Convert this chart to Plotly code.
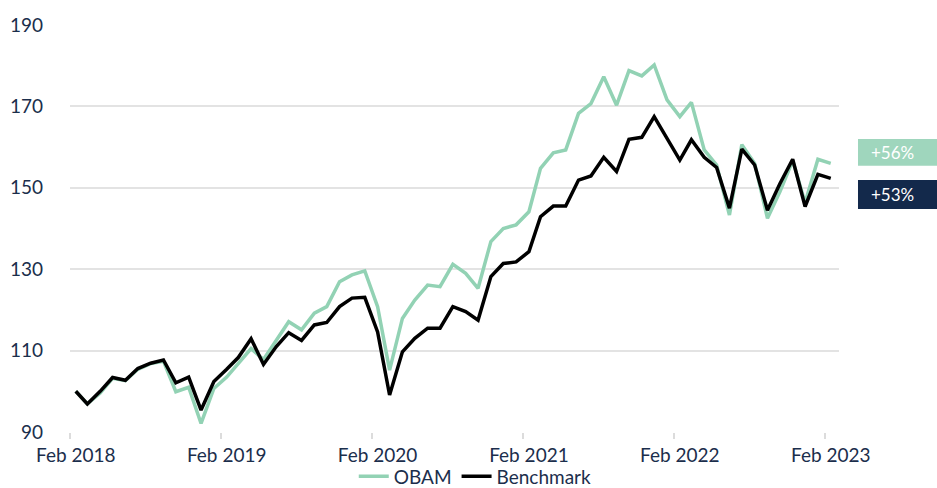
import pandas as pd
import plotly.graph_objects as go

start_month = "2018-02-01"
n_months = 61
dates = pd.date_range(start_month, periods=n_months, freq="MS") + pd.Timedelta(days=14)

obam = [100.0, 96.9, 99.6, 103.2, 102.6, 105.4, 106.8, 107.4, 99.9, 101.0,
        92.1, 100.7, 103.5, 106.8, 110.5, 107.8, 112.6, 117.1, 115.1, 119.2,
        120.8, 126.9, 128.6, 129.6, 120.8, 105.2, 117.9, 122.4, 126.1, 125.7,
        131.2, 129.0, 125.3, 136.8, 140.0, 140.9, 144.1, 154.8, 158.6, 159.3,
        168.3, 170.7, 177.3, 170.3, 178.8, 177.5, 180.2, 171.6, 167.5, 171.0,
        159.3, 155.6, 143.3, 160.6, 156.0, 142.5, 149.0, 156.7, 146.3, 157.0,
        156.0]
benchmark = [100.0, 96.9, 100.0, 103.4, 102.7, 105.6, 106.9, 107.7, 102.1, 103.5,
             95.4, 102.4, 105.4, 108.3, 112.9, 106.6, 111.0, 114.4, 112.5, 116.3,
             116.9, 120.8, 122.9, 123.1, 114.6, 99.1, 109.7, 113.0, 115.5, 115.5,
             120.8, 119.6, 117.5, 128.2, 131.4, 131.8, 134.3, 142.9, 145.5, 145.5,
             151.9, 152.9, 157.5, 154.0, 161.9, 162.4, 167.5, 162.1, 156.8, 161.8,
             157.5, 155.0, 145.0, 159.5, 155.6, 144.5, 151.0, 157.0, 145.4, 153.3,
             152.3]

tick_labels = ["Feb 2018", "Feb 2019", "Feb 2020", "Feb 2021", "Feb 2022", "Feb 2023"]
tick_dates = [dates[12 * k] for k in range(len(tick_labels))]
y_ticks = [90, 110, 130, 150, 170, 190]
end_labels = ["+56%", "+53%"]

GREEN = "#92d2b4"
BLACK = "#000000"
NAVY = "#13294b"
TEXT = "#1b2e4c"
FONT = "Lato"

fig = go.Figure()
fig.add_trace(go.Scatter(x=dates, y=obam, name="OBAM", mode="lines",
                         line=dict(color=GREEN, width=3.5)))
fig.add_trace(go.Scatter(x=dates, y=benchmark, name="Benchmark", mode="lines",
                         line=dict(color=BLACK, width=3.5)))

# end-value boxes
fig.add_shape(type="rect", xref="paper", yref="y", x0=1.0247, x1=1.15,
              y0=155.4, y1=162.0, fillcolor="#9fd6bd", line=dict(width=0), layer="above")
fig.add_shape(type="rect", xref="paper", yref="y", x0=1.0247, x1=1.15,
              y0=144.8, y1=151.9, fillcolor=NAVY, line=dict(width=0), layer="above")
fig.add_annotation(xref="paper", yref="y", x=1.069, y=158.7, text=end_labels[0],
                   xanchor="center", yanchor="middle",
                   showarrow=False, font=dict(family=FONT, size=17, color="white"))
fig.add_annotation(xref="paper", yref="y", x=1.069, y=148.35, text=end_labels[1],
                   xanchor="center", yanchor="middle",
                   showarrow=False, font=dict(family=FONT, size=17, color="white"))

fig.update_layout(
    width=937, height=488,
    margin=dict(l=70, r=98, t=25, b=56, autoexpand=False),
    paper_bgcolor="white", plot_bgcolor="white",
    font=dict(family=FONT, size=19, color=TEXT),
    showlegend=True,
    legend=dict(orientation="h", x=0.527, xanchor="center", y=-0.156, yanchor="bottom",
                font=dict(family=FONT, size=19, color=TEXT),
                itemwidth=30, tracegroupgap=0, bgcolor="rgba(0,0,0,0)"),
    xaxis=dict(range=["2018-02-01", "2023-03-07"], tickvals=tick_dates, ticktext=tick_labels,
               showgrid=False, showline=False, zeroline=False,
               ticks="", ticklabelstandoff=10,
               minor=dict(ticks="outside", ticklen=6, tickcolor="#dcdcdc", tickwidth=1.5,
                          tick0="2018-02-01", dtick="M12", showgrid=False),
               tickfont=dict(family=FONT, size=19, color=TEXT)),
    yaxis=dict(range=[90, 190], tickvals=y_ticks, showgrid=True, gridcolor="#e3e3e3",
               gridwidth=1.5, zeroline=False, showline=False, ticks="",
               ticklabelstandoff=26,
               tickfont=dict(family=FONT, size=19, color=TEXT)),
)

fig.write_html("out.html", config={"displayModeBar": False},
               post_script="document.body.style.margin='0px';")
